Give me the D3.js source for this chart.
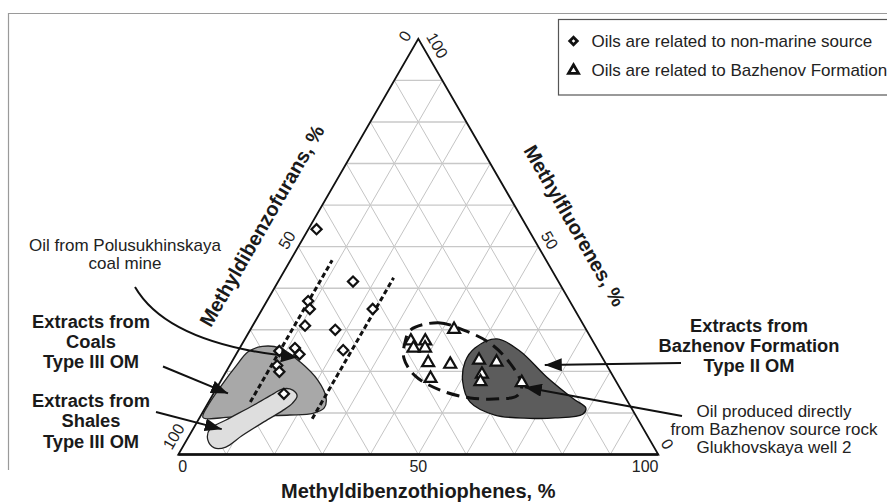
<!DOCTYPE html>
<html>
<head>
<meta charset="utf-8">
<script src="https://cdn.jsdelivr.net/npm/d3@7"></script>
<style>
body { margin: 0; background: #fff; }
svg { display: block; font-family: "Liberation Sans", Arial, sans-serif; }
.grid { stroke: #c4c4c4; stroke-width: 1; fill: none; }
.grid-h { stroke: #c8c8c8; stroke-width: 1.4; }
.edge { stroke: #111; stroke-width: 1.8; fill: none; }
.tick-label { font-size: 16px; fill: #222; }
.axis-title { font-size: 20px; font-weight: bold; fill: #1a1a1a; }
.note { font-size: 17px; fill: #222; }
.note-bold { font-size: 18.3px; font-weight: bold; fill: #1a1a1a; }
.arrow { stroke: #111; stroke-width: 2; fill: none; }
</style>
</head>
<body>
<div id="chart"></div>
<script>

// values, as [Methyldibenzothiophenes, Methylfluorenes] in %
// (Methyldibenzofurans = 100 - both)
var axisTitles = ["Methyldibenzothiophenes, %", "Methylfluorenes, %", "Methyldibenzofurans, %"];
var tickValues = [0, 50, 100];
var legendLabels = ["Oils are related to non-marine source", "Oils are related to Bazhenov Formation"];

var nonMarineOils = [
    [1.7, 54.2], [15.6, 41.6], [8.6, 36.9], [9.9, 35.0], [10.9, 31.0],
    [17.7, 30.0], [23.0, 35.0], [21.8, 25.1], [8.6, 24.9], [11.5, 25.6],
    [13.2, 24.1], [9.9, 21.4], [11.1, 19.9], [14.7, 14.6]
];
var bazhenovOils = [
    [42.4, 30.1], [34.8, 27.3], [37.8, 27.3], [36.2, 25.6], [38.6, 25.6],
    [41.0, 22.1], [45.8, 21.7], [43.4, 18.3], [51.3, 22.7], [55.2, 22.2],
    [53.6, 19.3], [54.2, 17.5], [62.9, 17.3]
];

// outlines of the fields
var coalExtracts = [
    [4.5, 26.0], [8.4, 25.6], [14.2, 22.3], [20.1, 17.9], [24.0, 13.6],
    [24.8, 11.2], [23.1, 9.9], [18.5, 9.5], [12.4, 9.3], [6.3, 9.0],
    [0.7, 8.9], [0.3, 11.9], [0.7, 16.7], [1.4, 21.3], [2.2, 24.7]
];
var shaleExtracts = [
    [13.9, 15.8], [16.1, 15.5], [17.7, 14.1], [17.6, 12.3], [16.4, 10.5],
    [13.7, 7.6], [11.0, 4.5], [9.0, 1.8], [6.7, 1.6], [4.4, 3.5],
    [3.5, 6.1], [5.8, 8.3], [9.8, 11.9], [12.5, 14.6]
];
var bazhenovExtracts = [
    [52.5, 27.8], [58.7, 24.9], [67.5, 18.6], [75.6, 13.4], [79.3, 11.2],
    [79.4, 9.7], [74.1, 8.8], [68.9, 8.7], [61.2, 9.5], [54.5, 12.6],
    [50.5, 17.5], [48.6, 22.3], [49.0, 25.6]
];
var bazhenovOilEnvelope = [
    [33.4, 30.0], [38.3, 31.7], [44.3, 30.0], [51.5, 26.8], [58.1, 22.0],
    [63.2, 16.7], [63.5, 14.1], [60.3, 13.4], [54.0, 13.6], [46.8, 15.5],
    [39.9, 18.9], [35.4, 23.2], [33.7, 27.1]
];
// dashed trends: [Methyldibenzothiophenes, Methylfluorenes from, to]
var trendLines = [[8.7, 12.6, 46.7], [23.6, 8.6, 42.5]];

var width = 887, height = 502;

var svg = d3.select("#chart").append("svg")
    .attr("width", width)
    .attr("height", height);

svg.append("defs").append("marker")
    .attr("id", "head")
    .attr("markerUnits", "userSpaceOnUse")
    .attr("markerWidth", 18).attr("markerHeight", 13)
    .attr("refX", 17).attr("refY", 6.5)
    .attr("orient", "auto")
    .append("path")
    .attr("d", "M0,0 L17,6.5 L0,13 Z")
    .attr("fill", "#111");

// scale functions
var xScale = d3.scaleLinear().domain([0, 100]).range([178.3, 658.3]);
var yScale = d3.scaleLinear().domain([0, 100]).range([454.5, 38.8]);
function px(d) { return xScale(d[0] + d[1] / 2); }
function py(d) { return yScale(d[1]); }

// frame
svg.append("path")
    .attr("d", "M8.5,470 L8.5,13.5 L" + width + ",13.5")
    .attr("stroke", "#9a9a9a").attr("stroke-width", 1.2).attr("fill", "none");

// grid
var grid = svg.append("g");
d3.range(10, 100, 10).forEach(function(k) {
    var segs = [
        [[0, k], [100 - k, k], "grid grid-h"],
        [[k, 0], [k, 100 - k], "grid"],
        [[100 - k, 0], [0, 100 - k], "grid"]
    ];
    segs.forEach(function(s) {
        grid.append("line")
            .attr("class", s[2])
            .attr("x1", px(s[0])).attr("y1", py(s[0]))
            .attr("x2", px(s[1])).attr("y2", py(s[1]));
    });
});

// fields
var outline = d3.line().x(px).y(py).curve(d3.curveCatmullRomClosed.alpha(0.5));
svg.append("path").datum(coalExtracts)
    .attr("d", outline).attr("fill", "#a8a8a8").attr("stroke", "#222").attr("stroke-width", 1.3);
svg.append("path").datum(shaleExtracts)
    .attr("d", outline).attr("fill", "#dedede").attr("stroke", "#222").attr("stroke-width", 1.3);
svg.append("path").datum(bazhenovExtracts)
    .attr("d", outline).attr("fill", "#5c5c5c").attr("stroke", "#111").attr("stroke-width", 1.3);

// dashed trend lines
trendLines.forEach(function(t) {
    var a = [t[0], t[1]], b = [t[0], t[2]];
    svg.append("line")
        .attr("x1", px(a)).attr("y1", py(a))
        .attr("x2", px(b)).attr("y2", py(b))
        .attr("stroke", "#111").attr("stroke-width", 3)
        .attr("stroke-dasharray", "5,3");
});

svg.append("path").datum(bazhenovOilEnvelope)
    .attr("d", outline).attr("fill", "none")
    .attr("stroke", "#111").attr("stroke-width", 3)
    .attr("stroke-dasharray", "13,7");

// triangle edges
var corners = [[0, 0], [100, 0], [0, 100]];
svg.append("path")
    .attr("class", "edge")
    .attr("d", "M" + corners.map(function(c) { return px(c) + "," + py(c); }).join("L") + "Z");
svg.append("line")
    .attr("x1", px(corners[0])).attr("y1", py(corners[0]))
    .attr("x2", px(corners[1])).attr("y2", py(corners[1]))
    .attr("stroke", "#111").attr("stroke-width", 2.4);

// points
var diamond = d3.symbol().type(d3.symbolSquare).size(52);
var tri = d3.symbol().type(d3.symbolTriangle).size(62);

svg.selectAll(".dia")
    .data(nonMarineOils)
    .enter().append("path")
    .attr("class", "dia")
    .attr("d", diamond)
    .attr("transform", function(d) { return "translate(" + px(d) + "," + py(d) + ") rotate(45)"; })
    .attr("fill", "#fff").attr("stroke", "#111").attr("stroke-width", 2.2);

svg.selectAll(".tri")
    .data(bazhenovOils)
    .enter().append("path")
    .attr("class", "tri")
    .attr("d", tri)
    .attr("transform", function(d) { return "translate(" + px(d) + "," + py(d) + ")"; })
    .attr("fill", "#fff").attr("stroke", "#111").attr("stroke-width", 2.2);

// tick labels
var s3 = Math.sqrt(3) / 2;
function tickLabel(pt, label, rot, dir, nrm, shift, off) {
    svg.append("text")
        .attr("class", "tick-label")
        .attr("text-anchor", "middle")
        .attr("dominant-baseline", "central")
        .attr("transform", "translate(" + (px(pt) + dir[0] * shift + nrm[0] * off) + "," +
            (py(pt) + dir[1] * shift + nrm[1] * off) + ") rotate(" + rot + ")")
        .text(label);
}
tickValues.forEach(function(v) {
    var lab = String(v), half = lab.length * 4.4;
    // bottom: Methyldibenzothiophenes
    tickLabel([v, 0], lab, 0, [1, 0], [0, 1], v == 0 ? half : v == 100 ? -half : 0, 12);
    // left: Methyldibenzofurans (100 at bottom-left)
    tickLabel([0, 100 - v], lab, -60, [0.5, -s3], [-s3, -0.5], v == 100 ? half : v == 0 ? -half : 0, 13);
    // right: Methylfluorenes (100 at apex)
    tickLabel([100 - v, v], lab, 60, [0.5, s3], [s3, -0.5], v == 100 ? half + 2 : v == 0 ? -half : 0, 13);
});

// axis titles
svg.append("text")
    .attr("class", "axis-title").attr("text-anchor", "middle")
    .attr("x", xScale(50)).attr("y", yScale(0) + 43)
    .text(axisTitles[0]);
svg.append("text")
    .attr("class", "axis-title").attr("text-anchor", "middle").attr("dominant-baseline", "central")
    .attr("transform", "translate(" + (px([50, 50]) + s3 * 42) + "," + (py([50, 50]) - 0.5 * 42) + ") rotate(60)")
    .text(axisTitles[1]);
svg.append("text")
    .attr("class", "axis-title").attr("text-anchor", "middle").attr("dominant-baseline", "central")
    .attr("transform", "translate(" + (px([0, 50]) - s3 * 42) + "," + (py([0, 50]) - 0.5 * 42) + ") rotate(-60)")
    .text(axisTitles[2]);

// arrows
function arrow(d) {
    svg.append("path").attr("class", "arrow").attr("d", d).attr("marker-end", "url(#head)");
}
function tip(t) { return px(t) + "," + py(t); }
arrow("M135,287 C160,330 220,350 " + tip([13.2, 23.4]));
arrow("M163,366.5 L" + tip([3.0, 14.7]));
arrow("M156,412 L" + tip([6.0, 6.1]));
arrow("M681,363 L" + tip([65.6, 21.5]));
arrow("M682,416 L" + tip([64.1, 16.2]));

// annotations
function block(lines, cx, y0, step, cls) {
    lines.forEach(function(t, i) {
        svg.append("text")
            .attr("class", cls).attr("text-anchor", "middle").attr("dominant-baseline", "central")
            .attr("x", cx).attr("y", y0 + i * step)
            .text(t);
    });
}
block(["Oil from Polusukhinskaya", "coal mine"], 125, 245, 18.5, "note");
block(["Extracts from", "Coals", "Type III OM"], 91, 321, 20.3, "note-bold");
block(["Extracts from", "Shales", "Type III OM"], 91, 400, 20.8, "note-bold");
block(["Extracts from", "Bazhenov Formation", "Type II OM"], 749, 325, 20, "note-bold");
block(["Oil produced directly", "from Bazhenov source rock", "Glukhovskaya well 2"], 774, 411, 18.3, "note");

// legend
svg.append("rect")
    .attr("x", 558.5).attr("y", 19.5)
    .attr("width", 360).attr("height", 75.5)
    .attr("fill", "#fff").attr("stroke", "#555").attr("stroke-width", 1.2);
var legendSymbols = [d3.symbol().type(d3.symbolSquare).size(28), d3.symbol().type(d3.symbolTriangle).size(44)];
legendLabels.forEach(function(l, i) {
    var yy = 41 + i * 29.5;
    svg.append("path")
        .attr("d", legendSymbols[i])
        .attr("transform", "translate(573.5," + yy + ")" + (i == 0 ? " rotate(45)" : ""))
        .attr("fill", "#fff").attr("stroke", "#111").attr("stroke-width", 2.8);
    svg.append("text")
        .attr("class", "note").attr("dominant-baseline", "central")
        .attr("x", 591.5).attr("y", yy)
        .text(l);
});

</script>
</body>
</html>
